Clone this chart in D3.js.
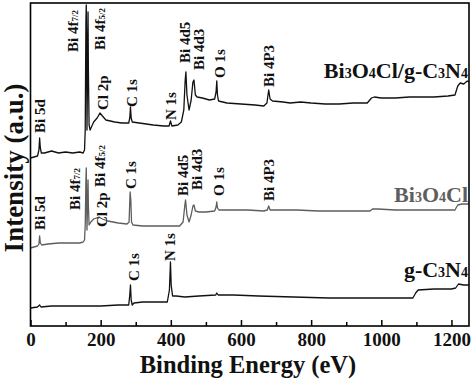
<!DOCTYPE html>
<html><head><meta charset="utf-8">
<script src="https://cdn.jsdelivr.net/npm/d3@7"></script>
<style>
html,body{margin:0;padding:0;background:#fff;}
svg{display:block;}
text{font-family:"Liberation Serif","Times New Roman",serif;font-weight:bold;}
</style></head>
<body><div id="chart"></div>
<script>
// Binding energy (eV), intensity (a.u.)
const compositeSpectrum = [[0,168],[10,169],[20,170],[24,176],[26,188],[28,178],[31,173],[40,173],[60,175],[80,173],[100,174],[120,173],[140,174],[150,173],[154,176],[156,196],[158,306],[159,321],[160,286],[161,196],[163,266],[164,314],[165,256],[167,201],[170,196],[180,204],[190,208],[198,213],[205,210],[215,206],[240,204],[260,203],[280,203],[283,208],[285,219],[287,208],[290,204],[310,203],[330,202],[350,201],[380,200],[395,200],[399,205],[403,200],[420,201],[430,204],[437,216],[441,246],[443,254],[446,231],[452,216],[458,226],[463,244],[466,246],[470,231],[475,229],[490,228],[510,226],[525,227],[529,234],[531,245],[533,231],[536,225],[560,223],[600,222],[640,221],[665,220],[674,223],[679,236],[683,227],[690,225],[720,224],[740,223],[770,224],[800,223],[840,222],[880,222],[920,223],[960,223],[972,228],[980,229],[1000,228],[1040,228],[1080,229],[1110,229],[1150,229],[1190,230],[1210,231],[1218,240],[1225,243],[1235,242],[1245,245],[1250,244]];
const bi3o4clSpectrum = [[0,78],[10,79],[20,80],[24,82],[26,90],[28,83],[32,81],[50,82],[80,83],[110,83],[140,83],[150,84],[154,86],[156,101],[158,146],[159,158],[160,126],[161,96],[163,126],[164,146],[165,121],[167,101],[172,104],[180,107],[195,109],[205,107],[220,105],[250,103],[275,102],[281,104],[284,134],[286,126],[288,104],[292,101],[320,100],[360,100],[400,100],[425,100],[435,104],[440,121],[442,126],[446,111],[452,104],[458,111],[463,120],[466,121],[470,115],[480,114],[500,114],[525,115],[529,119],[531,124],[533,118],[537,116],[570,116],[620,116],[665,115],[675,116],[679,120],[683,116],[700,116],[760,116],[820,115],[880,115],[940,115],[968,115],[975,117],[990,117],[1040,116],[1100,116],[1160,116],[1210,116],[1218,121],[1230,122],[1250,122]];
const gc3n4Spectrum = [[0,18],[20,19],[26,21],[30,19],[60,20],[100,20],[150,20],[200,20],[250,21],[280,21],[283,31],[285,41],[287,26],[290,21],[295,23],[320,24],[360,24],[390,24],[396,36],[399,64],[401,41],[405,30],[415,30],[440,29],[480,30],[528,31],[531,33],[535,31],[580,31],[650,30],[750,29],[850,28],[950,28],[1050,28],[1090,28],[1098,33],[1105,36],[1150,37],[1200,37],[1212,38],[1220,42],[1235,41],[1250,41]];

const seriesNames = ["Bi3O4Cl/g-C3N4", "Bi3O4Cl", "g-C3N4"];
const seriesNameLevels = [248, 124, 49];

// peak annotations: [label, energy (eV), intensity level of label start]
const compositePeaks = [["Bi 5d",27,193],["Bi 4f|7/2",121,274],["Bi 4f|5/2",199,276],["Cl 2p",207,216],["C 1s",290,219],["N 1s",401,206],["Bi 4d5",439,263],["Bi 4d3",479,256],["O 1s",539,248],["Bi 4P3",681,239]];
const bi3o4clPeaks = [["Bi 5d",27,96],["Bi 4f|7/2",127,116],["Bi 4f|5/2",199,139],["Cl 2p",204,99],["C 1s",287,137],["Bi 4d5",436,130],["Bi 4d3",476,136],["O 1s",536,130],["Bi 4P3",681,125]];
const gc3n4Peaks = [["C 1s",296,45],["N 1s",399,65]];

const majorTicks = [0,200,400,600,800,1000,1200];
const minorTicks = [100,300,500,700,900,1100];

const W = 474, H = 379;
const svg = d3.select("#chart").append("svg").attr("width", W).attr("height", H);
const x = d3.scaleLinear().domain([0,1250]).range([30.5,469]);
const y = d3.scaleLinear().domain([0,323]).range([326,3]);

const line = d3.line().x(d => x(d[0])).y(d => y(d[1]));
const specs = [
  {data: compositeSpectrum, color:"#111"},
  {data: bi3o4clSpectrum, color:"#5e5e5e"},
  {data: gc3n4Spectrum, color:"#111"}
];
specs.forEach(s => {
  svg.append("path").datum(s.data).attr("d", line)
    .attr("fill","none").attr("stroke", s.color).attr("stroke-width",1.3)
    .attr("stroke-linejoin","round");
});

// frame
svg.append("rect").attr("x", x(0)).attr("y", y(323)).attr("width", x(1250)-x(0)).attr("height", y(0)-y(323))
  .attr("fill","none").attr("stroke","#000").attr("stroke-width",1.6);

// axes
const axMajor = svg.append("g").attr("transform", `translate(0,${y(0)})`)
  .call(d3.axisBottom(x).tickValues(majorTicks).tickSizeInner(-6).tickSizeOuter(0).tickPadding(7).tickFormat(d3.format("d")));
axMajor.select(".domain").remove();
axMajor.selectAll("line").attr("stroke","#000").attr("stroke-width",1.5);
axMajor.selectAll("text").attr("font-size",19).attr("fill","#111")
  .attr("font-family",'"Liberation Serif","Times New Roman",serif').attr("font-weight","bold");
const axMinor = svg.append("g").attr("transform", `translate(0,${y(0)})`)
  .call(d3.axisBottom(x).tickValues(minorTicks).tickSizeInner(-4).tickSizeOuter(0).tickFormat(""));
axMinor.select(".domain").remove();
axMinor.selectAll("line").attr("stroke","#000").attr("stroke-width",1.5);

// axis titles
svg.append("text").attr("x", 248).attr("y", 373).attr("text-anchor","middle")
  .attr("font-size",24.5).attr("fill","#111").text("Binding Energy (eV)");
svg.append("text").attr("transform","translate(23,168) rotate(-90)").attr("text-anchor","middle")
  .attr("font-size",27).attr("fill","#111").text("Intensity (a.u.)");

// peak labels
function peakLabels(list){
  list.forEach(p => {
    const parts = p[0].split("|");
    const t = svg.append("text")
      .attr("transform", `translate(${x(p[1])},${y(p[2])}) rotate(-90)`)
      .attr("dominant-baseline","central")
      .attr("font-size",15).attr("fill","#111");
    t.append("tspan").text(parts[0]);
    if (parts[1]) t.append("tspan").attr("font-size",9).attr("dy",2).text(parts[1]);
  });
}
peakLabels(compositePeaks);
peakLabels(bi3o4clPeaks);
peakLabels(gc3n4Peaks);

// series name labels with subscripts
const nameColors = ["#111","#5e5e5e","#111"];
seriesNames.forEach((n,i) => {
  const t = svg.append("text").attr("x", 468).attr("y", y(seriesNameLevels[i]))
    .attr("text-anchor","end").attr("font-size",22).attr("fill",nameColors[i]);
  n.split(/(\d)/).forEach(seg => {
    if (seg === "") return;
    if (/^\d$/.test(seg)) t.append("tspan").attr("font-size",14).text(seg);
    else t.append("tspan").text(seg);
  });
});
</script>
</body></html>
